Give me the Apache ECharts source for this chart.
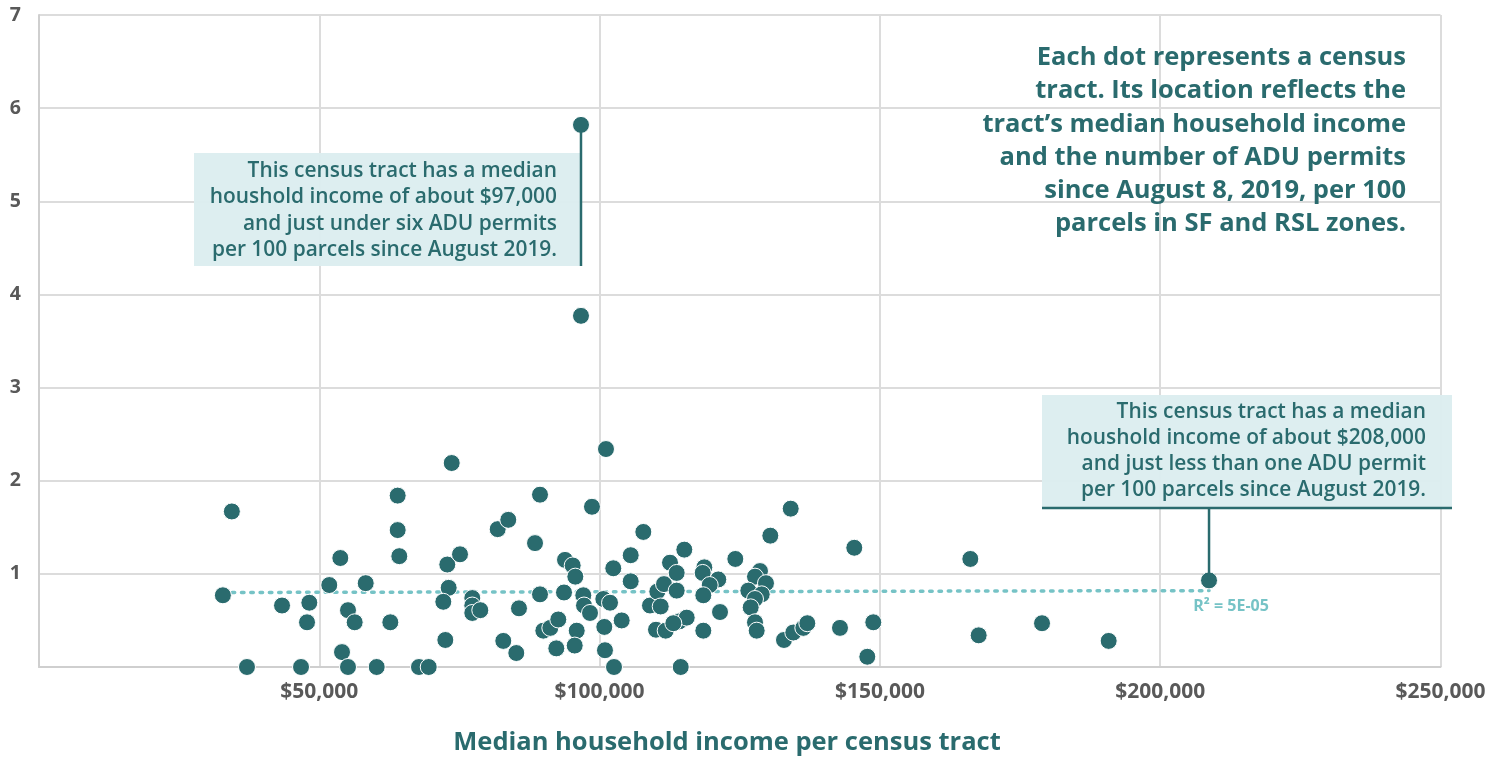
<!DOCTYPE html>
<html><head><meta charset="utf-8">
<script src="https://cdn.jsdelivr.net/npm/echarts@6/dist/echarts.min.js"></script>
<style>html,body{margin:0;padding:0;background:#fff}#c{width:1510px;height:761px}</style>
</head><body><div id="c"></div>
<script>
// median household income per census tract ($)
const income = [34400,32800,37100,43350,46740,47810,48220,51780,53750,54050,55120,55120,56310,58280,60240,62670,63980,63980,64270,67780,69520,73620,72830,73080,72120,72480,75100,77290,77290,77290,78720,81820,83710,82820,85620,85140,88480,89370,89370,89960,91210,92630,92280,93830,95200,95670,93650,95920,95560,97090,97220,98290,98640,101140,100660,101860,100840,100960,102570,102440,103940,105550,105550,107800,108990,110290,111490,110900,110060,111790,112560,113750,113750,115110,114220,115540,113150,114470,118680,118390,121170,119640,118500,121480,118500,124210,130450,134090,128610,127720,129680,126530,128920,127720,126950,127720,128020,132890,134550,136340,137050,142880,145430,148820,147750,166130,167620,178920,190810,208710,96680,96680];
// ADU permits per 100 parcels
const permits = [1.67,0.77,0,0.66,0,0.48,0.69,0.88,1.17,0.16,0.61,0,0.48,0.90,0,0.48,1.84,1.47,1.19,0,0,2.19,1.10,0.85,0.70,0.29,1.21,0.74,0.66,0.58,0.61,1.48,1.58,0.28,0.63,0.15,1.33,1.85,0.78,0.39,0.42,0.51,0.20,1.15,1.09,0.97,0.80,0.39,0.23,0.77,0.66,0.58,1.72,2.34,0.73,0.69,0.43,0.18,0,1.06,0.50,1.20,0.92,1.45,0.66,0.81,0.89,0.65,0.40,0.39,1.12,1.01,0.82,1.26,0.49,0.53,0.47,0,1.07,1.01,0.94,0.88,0.77,0.59,0.39,1.16,1.41,1.70,1.03,0.97,0.90,0.82,0.78,0.73,0.64,0.48,0.39,0.29,0.37,0.42,0.47,0.42,1.28,0.48,0.11,1.16,0.34,0.47,0.28,0.93,5.82,3.77];
// linear trend line endpoints
const trendX = [32800, 208710];
const trendY = [0.80, 0.82];
const rSquaredLabel = 'R² = 5E-05';
const xTicks = [0,50000,100000,150000,200000,250000];
const yTicks = [0,1,2,3,4,5,6,7];
const note1 = ['This census tract has a median','houshold income of about $97,000','and just under six ADU permits','per 100 parcels since August 2019.'];
const note2 = ['This census tract has a median','houshold income of about $208,000','and just less than one ADU permit','per 100 parcels since August 2019.'];
const headline = ['Each dot represents a census','tract. Its location reflects the','tract\u2019s median household income','and the number of ADU permits','since August 8, 2019, per 100','parcels in SF and RSL zones.'];
const xTitle = 'Median household income per census tract';
const highA = 110, highB = 109; // indices of annotated tracts (5.82 and 0.93 point)

const DOT = '#2a6b6e', TREND = '#76c3c6', BOX = '#dbedef', AX = '#595959';
const FONT = '"Open Sans", sans-serif';

const chart = echarts.init(document.getElementById('c'));
const pts = income.map((v,i)=>[v, permits[i]]);
const option = {
  animation:false,
  grid:{left:39,right:69.5,top:15,bottom:94,containLabel:false},
  xAxis:{type:'value',min:xTicks[0],max:xTicks[xTicks.length-1],interval:50000,
    axisLine:{show:true,lineStyle:{color:'#cfcfcf',width:2}},axisTick:{show:false},
    splitLine:{show:true,lineStyle:{color:'#dcdcdc',width:2}},
    axisLabel:{color:AX,fontFamily:FONT,fontWeight:'bold',fontSize:21,margin:15,
      formatter:v=>v===0?'':'$'+v.toLocaleString('en-US')}},
  yAxis:{type:'value',min:yTicks[0],max:yTicks[yTicks.length-1],interval:1,
    axisLine:{show:true,lineStyle:{color:'#cfcfcf',width:2}},axisTick:{show:false},
    splitLine:{show:true,lineStyle:{color:'#dcdcdc',width:2}},
    axisLabel:{color:AX,fontFamily:FONT,fontWeight:'bold',fontSize:19.5,margin:18,
      formatter:v=>v===0?'':String(v)}},
  series:[
    {type:'line',data:trendX.map((x,i)=>[x,trendY[i]]),symbol:'none',z:2,
      lineStyle:{color:TREND,width:3.5,type:[2.5,6.8],cap:'round'}},
    {type:'scatter',data:pts,symbolSize:17,z:3,
      itemStyle:{color:DOT,borderColor:'#fff',borderWidth:1,opacity:1}}
  ]
};
chart.setOption(option);

const pA = chart.convertToPixel({gridIndex:0}, pts[highA]);
const pB = chart.convertToPixel({gridIndex:0}, pts[highB]);
const txt = (lines,x,y,size,weight,fill,align,lh)=>({type:'text',z:10,
  style:{text:lines.join('\n'),x:x,y:y,fill:fill,font:weight+' '+size+'px '+FONT,
  textAlign:align,textVerticalAlign:'top',lineHeight:lh}});
chart.setOption({graphic:[
  {type:'rect',z:5,shape:{x:194,y:153,width:pA[0]-194,height:113},style:{fill:BOX,opacity:0.95}},
  {type:'line',z:6,shape:{x1:pA[0],y1:pA[1],x2:pA[0],y2:266},style:{stroke:DOT,lineWidth:2.5}},
  txt(note1,557,158,20.9,600,DOT,'right',26.3),
  {type:'rect',z:5,shape:{x:1042,y:395,width:410,height:113},style:{fill:BOX,opacity:0.95}},
  {type:'line',z:6,shape:{x1:1042,y1:508,x2:1452,y2:508},style:{stroke:DOT,lineWidth:2.5}},
  {type:'line',z:6,shape:{x1:pB[0],y1:508,x2:pB[0],y2:pB[1]},style:{stroke:DOT,lineWidth:2.5}},
  txt(note2,1426,399,20.9,600,DOT,'right',26),
  txt(headline,1406,41,25.5,700,DOT,'right',33.3),
  txt([rSquaredLabel],1231,598,16,700,TREND,'center',16),
  txt([xTitle],727,728,25.5,700,DOT,'center',30)
]});
</script></body></html>
